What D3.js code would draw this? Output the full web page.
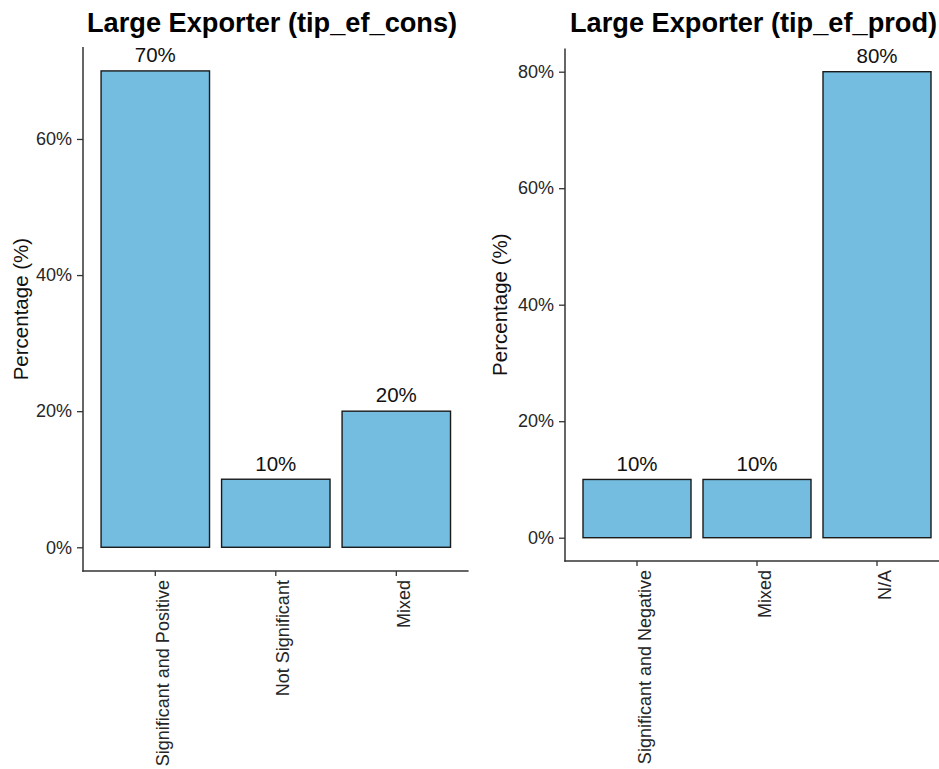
<!DOCTYPE html>
<html>
<head>
<meta charset="utf-8">
<script src="https://cdn.jsdelivr.net/npm/d3@7"></script>
<style>
  html, body { margin: 0; padding: 0; background: #fff; }
  svg { display: block; overflow: hidden; }
  text { font-family: "Liberation Sans", Arial, sans-serif; }
</style>
</head>
<body>
<svg id="chart" width="939" height="769"></svg>
<script>
// Share of studies by finding, for the two large-exporter effects
const consCategories = ["Significant and Positive", "Not Significant", "Mixed"];
const consValues = [70, 10, 20];
const consTicks = [0, 20, 40, 60];

const prodCategories = ["Significant and Negative", "Mixed", "N/A"];
const prodValues = [10, 10, 80];
const prodTicks = [0, 20, 40, 60, 80];

const panelTitles = ["Large Exporter (tip_ef_cons)", "Large Exporter (tip_ef_prod)"];
const yAxisTitle = "Percentage (%)";

const svg = d3.select("#chart");
const barFill = "#74bde0";
const fontStack = "'Liberation Sans', Arial, sans-serif";

function drawPanel(opts) {
  const { categories, values, ticks, title, left, right, top, bottom, yMax, titleX, yTitleX } = opts;
  const g = svg.append("g");

  const x = d3.scaleBand()
    .domain(categories)
    .range([left, right])
    .paddingInner(0.1)
    .paddingOuter(0.15);

  // 5% expansion on both ends of the value axis
  const y = d3.scaleLinear()
    .domain([-0.05 * yMax, yMax * 1.05])
    .range([bottom, top]);

  // bars
  g.selectAll("rect.bar")
    .data(values)
    .join("rect")
    .attr("class", "bar")
    .attr("x", (d, i) => x(categories[i]))
    .attr("width", x.bandwidth())
    .attr("y", d => y(d))
    .attr("height", d => y(0) - y(d))
    .attr("fill", barFill)
    .attr("stroke", "#1a1a1a")
    .attr("stroke-width", 1.4);

  // value labels
  g.selectAll("text.val")
    .data(values)
    .join("text")
    .attr("class", "val")
    .attr("x", (d, i) => x(categories[i]) + x.bandwidth() / 2)
    .attr("y", d => y(d) - 8.7)
    .attr("text-anchor", "middle")
    .attr("font-size", "20.5px")
    .attr("fill", "#111")
    .text(d => d + "%");

  // y axis
  const yAxis = d3.axisLeft(y)
    .tickValues(ticks)
    .tickSize(6)
    .tickPadding(5)
    .tickFormat(d => d + "%");
  const ya = g.append("g").attr("transform", `translate(${left},0)`).call(yAxis);
  ya.attr("font-family", fontStack);
  ya.select(".domain").remove();
  ya.selectAll(".tick line").attr("stroke", "#333").attr("stroke-width", 1.3);
  ya.selectAll(".tick text")
    .attr("font-size", "18px")
    .attr("fill", "#262626");

  // x axis
  const xAxis = d3.axisBottom(x).tickSize(5).tickSizeOuter(0);
  const xa = g.append("g").attr("transform", `translate(0,${bottom})`).call(xAxis);
  xa.attr("font-family", fontStack);
  xa.select(".domain").remove();
  xa.selectAll(".tick line").attr("stroke", "#333").attr("stroke-width", 1.3);
  xa.selectAll(".tick text")
    .attr("font-size", "18px")
    .attr("fill", "#262626")
    .attr("text-anchor", "end")
    .attr("dy", null)
    .attr("y", null)
    .attr("transform", "translate(13.5,9) rotate(-90)");

  // axis lines
  g.append("line")
    .attr("x1", left).attr("x2", left)
    .attr("y1", top).attr("y2", bottom + 0.7)
    .attr("stroke", "#333").attr("stroke-width", 1.5);
  g.append("line")
    .attr("x1", left - 0.7).attr("x2", right)
    .attr("y1", bottom).attr("y2", bottom)
    .attr("stroke", "#333").attr("stroke-width", 1.5);

  // y axis title
  g.append("text")
    .attr("transform", `translate(${yTitleX},${(top + bottom) / 2}) rotate(-90)`)
    .attr("text-anchor", "middle")
    .attr("font-size", "20.5px")
    .attr("fill", "#111")
    .text(yAxisTitle);

  // panel title
  g.append("text")
    .attr("x", titleX)
    .attr("y", 32)
    .attr("font-size", "27.2px")
    .attr("font-weight", "bold")
    .attr("fill", "#000")
    .text(title);
}

drawPanel({
  categories: consCategories, values: consValues, ticks: consTicks,
  title: panelTitles[0], left: 83, right: 468.6, top: 47.1, bottom: 571.1,
  yMax: 70, titleX: 87, yTitleX: 28
});

drawPanel({
  categories: prodCategories, values: prodValues, ticks: prodTicks,
  title: panelTitles[1], left: 565, right: 949, top: 48.4, bottom: 561,
  yMax: 80, titleX: 570, yTitleX: 507
});
</script>
</body>
</html>
